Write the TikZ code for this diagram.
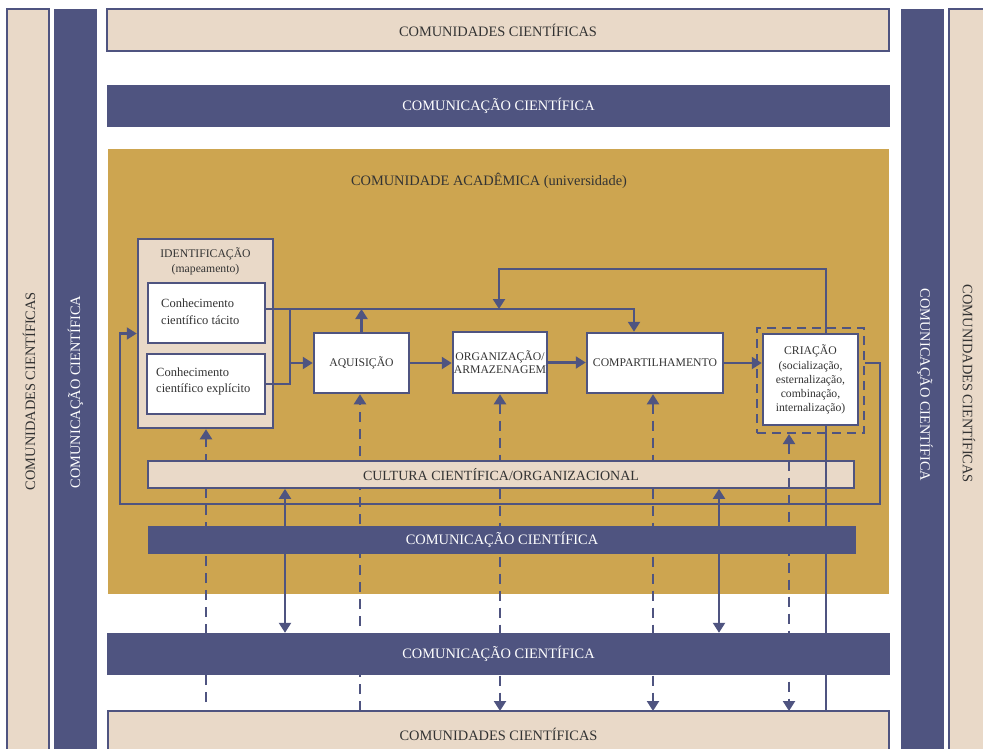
\documentclass[tikz,border=0pt]{standalone}
\usepackage{fontspec}
\setmainfont{Liberation Serif}
\usetikzlibrary{arrows.meta}
\definecolor{bl}{HTML}{4F5480}
\definecolor{bg}{HTML}{E9D9C8}
\definecolor{gd}{HTML}{CDA550}
\definecolor{tx}{HTML}{333333}
\begin{document}
\begin{tikzpicture}[x=1pt,y=-1pt,
  bigfont/.style={font=\fontsize{14.4}{16}\selectfont},
  bar/.style={draw=bl, line width=1.8pt, fill=bg, text=tx, bigfont, inner sep=0pt},
  bbar/.style={fill=bl, text=white, bigfont, inner sep=0pt},
  box/.style={draw=bl, line width=2.5pt, fill=white, text=tx, align=center, inner sep=0pt, font=\fontsize{11.7}{14}\selectfont},
  ln/.style={draw=bl, line width=2.2pt},
  tip/.tip={Triangle[width=12pt,length=10pt]},
  arr/.style={ln, -tip},
  arrb/.style={ln, tip-tip},
  dsh/.style={dash pattern=on 10pt off 7pt}
]
\useasboundingbox (0,0) rectangle (983,749);
\fill[white] (0,0) rectangle (983,749);

% side bars
\draw[bar] (7,9) rectangle (49,770);
\node[text=tx, bigfont, rotate=90] (lbt) at (29,391) {COMUNIDADES CIENTÍFICAS};
\fill[bl] (54,9) rectangle (97,770);
\node[text=white, bigfont, rotate=90] (lct) at (75.5,392) {COMUNICAÇÃO CIENTÍFICA};
\fill[bl] (901,9) rectangle (944,770);
\node[text=white, bigfont, rotate=-90] (rct) at (925,385) {COMUNICAÇÃO CIENTÍFICA};
\draw[bar] (949,9) rectangle (1000,770);
\node[text=tx, bigfont, rotate=-90] (rbt) at (969,384) {COMUNIDADES CIENTÍFICAS};

% horizontal bars
\node[bar, minimum width=782pt, minimum height=42pt] (tbeige) at (498,30) {COMUNIDADES CIENTÍFICAS};
\node[bbar, minimum width=783pt, minimum height=42pt] (tblue) at (498.5,106) {COMUNICAÇÃO CIENTÍFICA};
\fill[gd] (108,149) rectangle (889,594);
\node[text=tx, bigfont] (acad) at (489,181) {COMUNIDADE ACADÊMICA (universidade)};
\node[bbar, minimum width=783pt, minimum height=42pt] (bblue) at (498.5,654) {COMUNICAÇÃO CIENTÍFICA};
\draw[bar] (108,711) rectangle (889,770);
\coordinate (bbeige) at (498.5,711);
\node[text=tx, bigfont] (bbt) at (498.5,734) {COMUNIDADES CIENTÍFICAS};

% identification
\node[box, fill=bg, minimum width=135pt, minimum height=189pt] (id) at (205.5,333.5) {};
\node[text=tx, align=center, font=\fontsize{11.7}{15}\selectfont] (idt) at (205.5,261.5) {IDENTIFICAÇÃO\\(mapeamento)};
\node[box, minimum width=117pt, minimum height=60pt] (tac) at (206.5,313) {};
\node[text=tx, anchor=west, align=left, inner sep=0pt, font=\fontsize{12.5}{16.5}\selectfont] (tact) at (161,311.5) {Conhecimento\\científico tácito};
\node[box, minimum width=118pt, minimum height=60pt] (exp) at (206,384) {};
\node[text=tx, anchor=west, align=left, inner sep=0pt, font=\fontsize{12.5}{15.5}\selectfont] (expt) at (156,381.5) {Conhecimento\\científico explícito};

% process boxes
\node[box, minimum width=95pt, minimum height=60pt] (aq) at (361.5,363) {AQUISIÇÃO};
\node[box, minimum width=94pt, minimum height=61pt, font=\fontsize{11.7}{12.7}\selectfont] (org) at (500,362.5) {ORGANIZAÇÃO/\\ARMAZENAGEM};
\node[box, minimum width=136pt, minimum height=60pt] (comp) at (655,363) {COMPARTILHAMENTO};
\node[draw=bl, line width=2.2pt, dash pattern=on 9pt off 6pt, minimum width=107pt, minimum height=105pt, inner sep=0pt] (crid) at (810.5,380.5) {};
\node[box, minimum width=95pt, minimum height=91pt, font=\fontsize{11.7}{14.1}\selectfont] (cri) at (810.5,379.5) {CRIAÇÃO\\(socialização,\\esternalização,\\combinação,\\internalização)};

% coordinates
\coordinate (jx) at (290,309);
\coordinate (c634) at (634,309);
\coordinate (t1) at (826,269);
\coordinate (t2) at (499,269);
\coordinate (r1) at (880,504);
\coordinate (r2) at (120,504);
\coordinate (d206) at (206,702);
\coordinate (v285) at (285,0);
\coordinate (v360) at (360,0);
\coordinate (v500) at (500,0);
\coordinate (v653) at (653,0);
\coordinate (v719) at (719,0);
\coordinate (v789) at (789,0);

% dashed verticals passing behind the culture bar
\draw[arr, dsh] (d206) -- (d206 |- id.south);
\draw[arr, dsh] (v360 |- bbeige) -- (v360 |- aq.south);
\draw[arrb, dsh] (v500 |- org.south) -- (v500 |- bbeige);
\draw[arrb, dsh] (v653 |- comp.south) -- (v653 |- bbeige);

% inner bars
\node[bbar, minimum width=708pt, minimum height=28pt] (icom) at (502,540) {COMUNICAÇÃO CIENTÍFICA};
\node[bar, minimum width=706pt, minimum height=27pt, font=\fontsize{14}{16}\selectfont] (cult) at (501,474.5) {CULTURA CIENTÍFICA/ORGANIZACIONAL};

% connectors
\draw[arr] (tac.east |- jx) -- (c634) -- (c634 |- comp.north);
\draw[ln] (jx) -- (jx |- exp.east) -- (exp.east);
\draw[arr] (jx |- aq.west) -- (aq.west);
\draw[arr] (aq.north) -- (aq.north |- jx);
\draw[arr] (aq.east) -- (org.west |- aq.east);
\draw[arr] (org.east) -- (comp.west |- org.east);
\draw[arr] (comp.east) -- (cri.west |- comp.east);
\draw[arr] (t1 |- cri.north) -- (t1) -- (t2) -- (t2 |- jx);
\draw[arr] (crid.east |- comp.east) -- (r1 |- comp.east) -- (r1) -- (r2) -- (r2 |- id.west) -- (id.west);
\draw[ln] (t1 |- cri.south) -- (t1 |- bbeige);

\draw[arrb] (v285 |- cult.south) -- (v285 |- bblue.north);
\draw[arrb] (v719 |- cult.south) -- (v719 |- bblue.north);
\draw[arrb, dsh] (v789 |- crid.south) -- (v789 |- bbeige);
\end{tikzpicture}
\end{document}
